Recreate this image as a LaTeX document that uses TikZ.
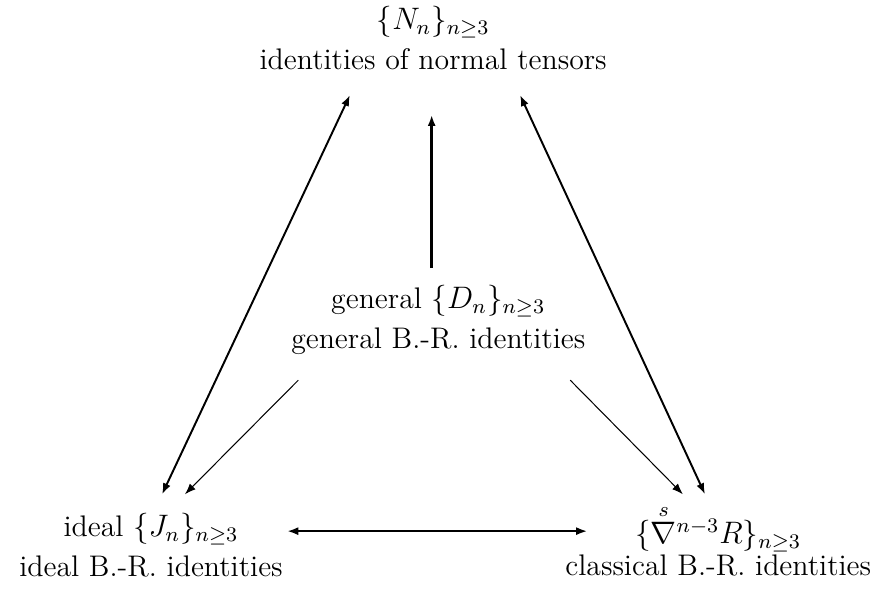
\documentclass[tikz,border=0pt]{standalone}
\usepackage{amsmath}
\usetikzlibrary{arrows.meta}
\tikzset{
  >={Latex[length=1.5mm,width=1.1mm]},
  txt/.style={align=center, inner sep=0pt, font=\fontsize{11.5}{15.4}\selectfont},
  both/.style={<->, line width=0.75pt},
  thick1/.style={->, line width=1.3pt},
  thin1/.style={->, line width=0.4pt}
}
\begin{document}
\begin{tikzpicture}
        \useasboundingbox (0,0) rectangle (12,-8.009);

        \node (N) at (5.88, -0.52) [txt] {$\{N_n\}_{n\geq 3}$\\ identities of normal tensors};
        \node (D) at (5.95, -4.34) [txt] {general $\{D_n\}_{n\geq 3}$\\ general B.-R. identities};
        \node (J) at (2.05, -7.40) [txt] {ideal $\{J_n\}_{n\geq 3}$\\ ideal B.-R. identities};
        \node (R) at (9.75, -7.333) [txt] {$\{\overset{s}{\nabla}{}^{n-3}R\}_{n\geq 3}$\\[-3pt] classical B.-R. identities};

        \draw[both] ([shift={(0.15,0.69)}]J.center) -- ([shift={(-1.13,-0.77)}]N.center);
        \draw[both] ([shift={(1.18,-0.77)}]N.center) -- ([shift={(-0.18,0.623)}]R.center);
        \draw[both] ([shift={(1.85,0.19)}]J.center) -- ([shift={(-1.78,0.123)}]R.center);

        \draw[thick1] ([shift={(-0.09,0.70)}]D.center) -- ([shift={(-0.02,-1.04)}]N.center);
        \draw[thin1] ([shift={(-1.90,-0.82)}]D.center) -- ([shift={(0.46,0.69)}]J.center);
        \draw[thin1] ([shift={(1.79,-0.82)}]D.center) -- ([shift={(-0.48,0.623)}]R.center);

\end{tikzpicture}
\end{document}
